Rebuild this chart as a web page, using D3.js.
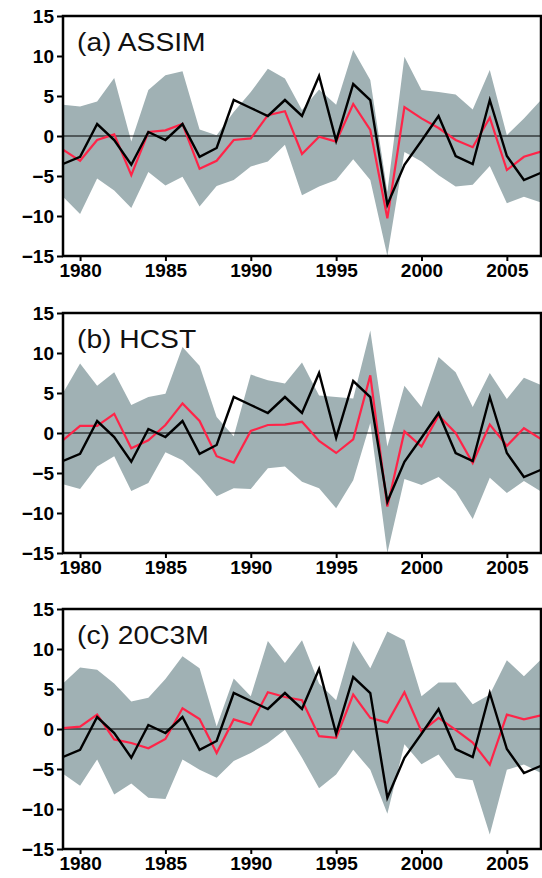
<!DOCTYPE html>
<html>
<head>
<meta charset="utf-8">
<script src="https://cdn.jsdelivr.net/npm/d3@7"></script>
<style>
    html, body { margin: 0; padding: 0; background: #fff; }
    svg { display: block; }
</style>
</head>
<body>
<script>

// Data

const years = d3.range(1979, 2008)
const yTicks = [-15, -10, -5, 0, 5, 10, 15]
const xTicks = [1980, 1985, 1990, 1995, 2000, 2005]

// observed (same in every panel)
const obs = [-3.5, -2.6, 1.5, -0.5, -3.6, 0.5, -0.5, 1.5, -2.6, -1.5, 4.5, 3.5, 2.5, 4.5, 2.5, 7.5, -0.6, 6.5, 4.5, -8.6, -3.6, -0.6, 2.5, -2.5, -3.5, 4.5, -2.5, -5.5, -4.6]

const assimMean = [-1.7, -3.1, -0.5, 0.2, -4.9, 0.5, 0.7, 1.5, -4.1, -3.1, -0.5, -0.3, 2.6, 3.1, -2.25, -0.1, -0.7, 4.0, 0.75, -10.3, 3.6, 2.2, 1.0, -0.5, -1.4, 2.3, -4.25, -2.6, -1.95]
const assimHi = [3.9, 3.7, 4.3, 7.25, -0.7, 5.75, 7.6, 8.1, 0.8, 0.1, 3.0, 5.5, 8.4, 7.2, 3.25, 5.8, 3.9, 10.75, 7.0, -7.0, 9.9, 5.75, 5.5, 5.2, 3.3, 8.25, 0.1, 2.2, 4.5]
const assimLo = [-7.6, -9.75, -5.3, -6.8, -9.0, -4.5, -6.2, -5.1, -8.8, -6.25, -5.5, -3.8, -3.2, -1.1, -7.4, -6.3, -5.5, -2.9, -5.5, -15, -2.0, -3.2, -4.9, -6.3, -6.1, -3.75, -8.4, -7.6, -8.3]

const hcstMean = [-0.9, 0.9, 0.9, 2.4, -1.9, -0.9, 1.0, 3.7, 1.5, -2.9, -3.7, 0.25, 1.0, 1.05, 1.4, -1.0, -2.5, -0.8, 7.2, -9.2, 0.2, -1.7, 2.2, 0, -3.75, 1.05, -1.6, 0.6, -0.75]
const hcstHi = [5.0, 8.7, 5.9, 7.6, 3.5, 4.5, 4.9, 10.75, 8.4, 2.0, -0.4, 7.3, 6.6, 6.2, 8.8, 4.7, 4.5, 4.3, 12.8, -1.7, 5.9, 3.25, 9.5, 7.6, 3.25, 7.5, 4.25, 6.9, 6.0]
const hcstLo = [-6.4, -7.0, -4.2, -2.9, -7.25, -6.25, -2.4, -3.4, -5.4, -7.9, -6.9, -7.0, -4.4, -4.2, -6.1, -6.9, -9.4, -5.9, 1.25, -15, -5.75, -6.5, -5.5, -7.3, -10.75, -5.6, -7.5, -6.0, -7.3]

const c20Mean = [0.1, 0.3, 1.8, -1.3, -1.75, -2.4, -1.25, 2.6, 1.25, -3.0, 1.2, 0.55, 4.6, 4.0, 3.6, -0.9, -1.1, 4.3, 1.4, 0.8, 4.6, -0.3, 1.4, -0.1, -1.7, -4.45, 1.8, 1.2, 1.7]
const c20Hi = [5.7, 7.7, 7.4, 5.7, 3.45, 3.9, 6.25, 9.1, 7.6, 0.3, 6.3, 4.1, 11.0, 8.25, 11.1, 5.7, 3.6, 11.0, 7.6, 12.2, 11.1, 4.1, 5.8, 5.8, 3.1, 4.3, 8.6, 6.6, 8.7]
const c20Lo = [-5.6, -7.1, -3.8, -8.2, -6.8, -8.6, -8.75, -3.8, -5.1, -6.1, -4.0, -3.0, -1.75, -0.1, -3.6, -7.4, -5.7, -2.6, -5.1, -10.6, -1.9, -4.4, -3.2, -6.1, -6.4, -13.2, -5.1, -4.45, -5.5]

const panels = [
    { title: '(a) ASSIM', mean: assimMean, hi: assimHi, lo: assimLo, top: 16 },
    { title: '(b) HCST', mean: hcstMean, hi: hcstHi, lo: hcstLo, top: 313 },
    { title: '(c) 20C3M', mean: c20Mean, hi: c20Hi, lo: c20Lo, top: 609 },
]

// Layout

const W = 542, H = 878
const left = 63, right = 541, ph = 240
const font = '"Liberation Sans", Arial, Helvetica, sans-serif'
const bandColor = '#a0b1b4'
const red = '#ff2448'
const minus = v => String(v).replace('-', '\u2212')

const svg = d3.select('body').append('svg')
    .attr('width', W)
    .attr('height', H)

const x = d3.scaleLinear().domain([1979, 2007]).range([left, right])

panels.forEach((p, i) => {

    const y = d3.scaleLinear().domain([-15, 15]).range([p.top + ph, p.top])
    const g = svg.append('g')

    const clipId = 'clip' + i
    g.append('clipPath').attr('id', clipId)
        .append('rect')
        .attr('x', left).attr('y', p.top)
        .attr('width', right - left).attr('height', ph)

    const plot = g.append('g').attr('clip-path', `url(#${clipId})`)

    // band
    const area = d3.area()
        .x((d, j) => x(years[j]))
        .y0((d, j) => y(p.lo[j]))
        .y1((d, j) => y(p.hi[j]))

    plot.append('path')
        .datum(years)
        .attr('d', area)
        .attr('fill', bandColor)

    // zero line
    plot.append('line')
        .attr('x1', left).attr('x2', right)
        .attr('y1', y(0)).attr('y2', y(0))
        .attr('stroke', '#000')
        .attr('stroke-width', 1)

    const line = d3.line()
        .x((d, j) => x(years[j]))
        .y(d => y(d))

    plot.append('path')
        .datum(p.mean)
        .attr('d', line)
        .attr('fill', 'none')
        .attr('stroke', red)
        .attr('stroke-width', 2.2)
        .attr('stroke-linejoin', 'miter')

    plot.append('path')
        .datum(obs)
        .attr('d', line)
        .attr('fill', 'none')
        .attr('stroke', '#000')
        .attr('stroke-width', 2.4)
        .attr('stroke-linejoin', 'miter')

    // axes
    const yAxis = d3.axisLeft(y)
        .tickValues(yTicks)
        .tickSize(6)
        .tickPadding(3)
        .tickFormat(minus)

    const xAxis = d3.axisBottom(x)
        .tickValues(xTicks)
        .tickSize(5)
        .tickPadding(3)
        .tickFormat(d3.format('d'))

    const ya = g.append('g')
        .attr('transform', `translate(${left},0)`)
        .call(yAxis)

    const xa = g.append('g')
        .attr('transform', `translate(0,${p.top + ph})`)
        .call(xAxis)

    ;[ya, xa].forEach(a => {
        a.select('.domain').remove()
        a.selectAll('.tick line').attr('stroke', '#000').attr('stroke-width', 2)
        a.selectAll('.tick text')
            .attr('fill', '#000')
            .style('font-family', font)
            .style('font-size', '19px')
            .style('font-weight', 'bold')
    })

    // frame
    g.append('rect')
        .attr('x', left).attr('y', p.top)
        .attr('width', right - left).attr('height', ph)
        .attr('fill', 'none')
        .attr('stroke', '#000')
        .attr('stroke-width', 2.5)

    // title (the original font is wider, so stretch it a little)
    g.append('text')
        .attr('transform', `translate(77,${p.top + 35}) scale(1.13,1)`)
        .attr('fill', '#111')
        .style('font-family', font)
        .style('font-size', '25px')
        .text(p.title)
})

</script>
</body>
</html>
